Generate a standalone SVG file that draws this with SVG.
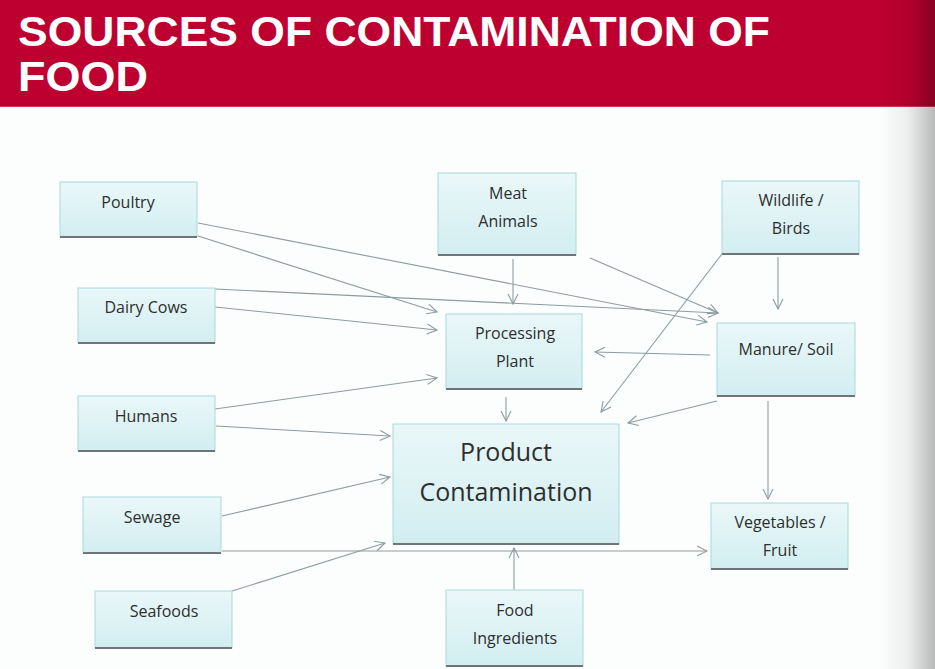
<svg xmlns="http://www.w3.org/2000/svg" width="935" height="669" viewBox="0 0 935 669">
<style>
.box{fill:url(#bg);stroke:#A6D9DA;stroke-width:1}
.sh{stroke:#6E7478;stroke-width:2.2}
.lbl{font-family:"Open Sans","Liberation Sans",sans-serif;font-size:16px;fill:#2E2E2E;text-anchor:middle}
.big{font-size:25px}
.c{stroke:#8C9CA2;stroke-width:1.1;fill:none;marker-end:url(#ah)}
.title{font-family:"Liberation Sans","Open Sans",sans-serif;font-weight:bold;font-size:42px;fill:#fff}
</style>
<defs>
<linearGradient id="bg" x1="0" y1="0" x2="0" y2="1">
<stop offset="0" stop-color="#EAF7F8"/>
<stop offset="1" stop-color="#D2EEF1"/>
</linearGradient>
<linearGradient id="edge" x1="0" y1="0" x2="1" y2="0">
<stop offset="0" stop-color="#000" stop-opacity="0"/>
<stop offset="0.5" stop-color="#000" stop-opacity="0.06"/>
<stop offset="1" stop-color="#000" stop-opacity="0.27"/>
</linearGradient>
<marker id="ah" viewBox="0 0 12 12" refX="11" refY="6" markerWidth="12" markerHeight="12" markerUnits="userSpaceOnUse" orient="auto">
<path d="M1,1 L11,6 L1,11" fill="none" stroke="#8C9CA2" stroke-width="1.1"/>
</marker>
</defs>
<rect x="0" y="0" width="935" height="669" fill="#FCFEFD"/>
<g id="header">
<rect x="0" y="0" width="935" height="107" fill="#BE0030"/>
<line x1="0" y1="106.5" x2="935" y2="106.5" stroke="#D23C5A" stroke-width="1"/>
<text class="title" x="18" y="46" textLength="752" lengthAdjust="spacingAndGlyphs">SOURCES OF CONTAMINATION OF</text>
<text class="title" x="18" y="91" textLength="130" lengthAdjust="spacingAndGlyphs">FOOD</text>
</g>
<g id="connectors">
<line class="c" x1="198" y1="236" x2="437" y2="312"/>
<line class="c" x1="198" y1="223" x2="707" y2="322"/>
<line class="c" x1="215" y1="289" x2="718" y2="313"/>
<line class="c" x1="590" y1="258" x2="718" y2="313"/>
<line class="c" x1="215" y1="307" x2="437" y2="330"/>
<line class="c" x1="513" y1="259" x2="513" y2="304"/>
<line class="c" x1="778" y1="257" x2="778" y2="309"/>
<line class="c" x1="722" y1="254" x2="601" y2="412"/>
<line class="c" x1="710" y1="355" x2="595" y2="352"/>
<line class="c" x1="717" y1="401" x2="628" y2="423"/>
<line class="c" x1="768" y1="401" x2="768" y2="499"/>
<line class="c" x1="506" y1="397" x2="506" y2="421"/>
<line class="c" x1="215" y1="409" x2="437" y2="378"/>
<line class="c" x1="216" y1="426" x2="390" y2="436"/>
<line class="c" x1="222" y1="516" x2="390" y2="477"/>
<line class="c" x1="222" y1="551" x2="707" y2="551"/>
<line class="c" x1="232" y1="591" x2="385" y2="543"/>
<line class="c" x1="514" y1="590" x2="514" y2="548"/>
</g>
<g id="poultry"><rect class="box" x="60" y="182" width="137" height="55"/><line class="sh" x1="60" y1="237" x2="197" y2="237"/><text class="lbl" x="128" y="208">Poultry</text></g>
<g id="dairy"><rect class="box" x="78" y="288" width="137" height="55"/><line class="sh" x1="78" y1="343" x2="215" y2="343"/><text class="lbl" x="146" y="313">Dairy Cows</text></g>
<g id="meat"><rect class="box" x="438" y="173" width="138" height="82"/><line class="sh" x1="438" y1="255" x2="576" y2="255"/><text class="lbl" x="508" y="199">Meat</text><text class="lbl" x="508" y="227">Animals</text></g>
<g id="wildlife"><rect class="box" x="722" y="181" width="137" height="73"/><line class="sh" x1="722" y1="254" x2="859" y2="254"/><text class="lbl" x="791" y="206">Wildlife /</text><text class="lbl" x="791" y="234">Birds</text></g>
<g id="processing"><rect class="box" x="446" y="314" width="136" height="75"/><line class="sh" x1="446" y1="389" x2="582" y2="389"/><text class="lbl" x="515" y="339">Processing</text><text class="lbl" x="515" y="367">Plant</text></g>
<g id="manure"><rect class="box" x="717" y="323" width="138" height="73"/><line class="sh" x1="717" y1="396" x2="855" y2="396"/><text class="lbl" x="786" y="355">Manure/ Soil</text></g>
<g id="humans"><rect class="box" x="78" y="396" width="137" height="55"/><line class="sh" x1="78" y1="451" x2="215" y2="451"/><text class="lbl" x="146" y="422">Humans</text></g>
<g id="product"><rect class="box" x="393" y="424" width="226" height="120"/><line class="sh" x1="393" y1="544" x2="619" y2="544"/><text class="lbl big" x="506" y="461">Product</text><text class="lbl big" x="506" y="501">Contamination</text></g>
<g id="sewage"><rect class="box" x="83" y="497" width="138" height="56"/><line class="sh" x1="83" y1="553" x2="221" y2="553"/><text class="lbl" x="152" y="523">Sewage</text></g>
<g id="vegetables"><rect class="box" x="711" y="503" width="137" height="66"/><line class="sh" x1="711" y1="569" x2="848" y2="569"/><text class="lbl" x="780" y="528">Vegetables /</text><text class="lbl" x="780" y="556">Fruit</text></g>
<g id="seafoods"><rect class="box" x="95" y="591" width="137" height="57"/><line class="sh" x1="95" y1="648" x2="232" y2="648"/><text class="lbl" x="164" y="617">Seafoods</text></g>
<g id="ingredients"><rect class="box" x="446" y="590" width="137" height="76"/><line class="sh" x1="446" y1="666" x2="583" y2="666"/><text class="lbl" x="515" y="616">Food</text><text class="lbl" x="515" y="644">Ingredients</text></g>
<rect x="880" y="0" width="55" height="669" fill="url(#edge)"/>
</svg>
